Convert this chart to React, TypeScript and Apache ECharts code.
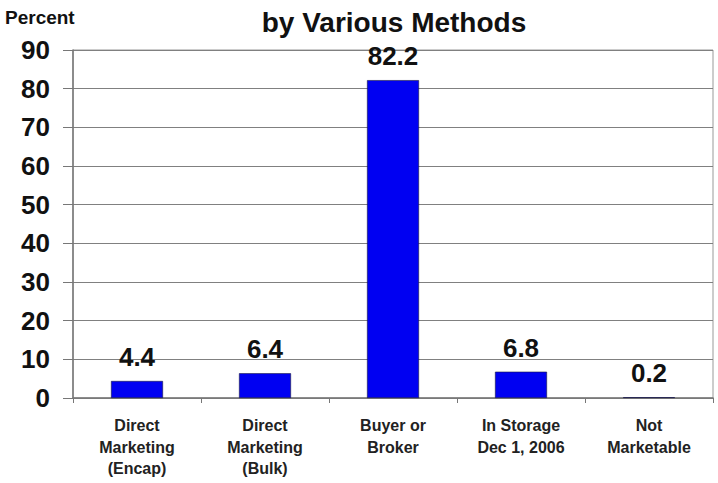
import React, { useEffect, useRef } from "react";
import * as echarts from "echarts";

const categories = [
  "Direct\nMarketing\n(Encap)",
  "Direct\nMarketing\n(Bulk)",
  "Buyer or\nBroker",
  "In Storage\nDec 1, 2006",
  "Not\nMarketable",
];
const values = [4.4, 6.4, 82.2, 6.8, 0.2];
const yTicks = { min: 0, max: 90, interval: 10 };

const FONT = "'Liberation Sans', Arial, sans-serif";

export default function App() {
  const ref = useRef<HTMLDivElement>(null);
  useEffect(() => {
    if (!ref.current) return;
    const chart = echarts.init(ref.current, undefined, { renderer: "svg" });
    chart.setOption({
      animation: false,
      backgroundColor: "#ffffff",
      title: {
        text: "by Various Methods",
        left: 389,
        textAlign: "center",
        top: 3,
        textStyle: { fontFamily: FONT, fontWeight: "bold", fontSize: 28, color: "#111" },
      },
      graphic: [
        {
          type: "text",
          left: 5,
          top: 8,
          style: { text: "Percent", font: `bold 19px ${FONT}`, fill: "#111" },
        },
      ],
      grid: {
        left: 73,
        right: 5,
        top: 50,
        bottom: 85,
        show: true,
        borderColor: "#999",
        borderWidth: 1,
      },
      xAxis: {
        type: "category",
        data: categories,
        axisLine: { lineStyle: { color: "#777", width: 1.5 } },
        axisTick: { show: true, length: 5, lineStyle: { color: "#777" } },
        axisLabel: {
          interval: 0,
          margin: 17,
          fontFamily: FONT,
          fontWeight: "bold",
          fontSize: 16,
          lineHeight: 21.5,
          color: "#222",
        },
      },
      yAxis: {
        type: "value",
        min: yTicks.min,
        max: yTicks.max,
        interval: yTicks.interval,
        axisLine: { show: true, lineStyle: { color: "#777", width: 1.5 } },
        axisTick: { show: true, length: 10, inside: false, lineStyle: { color: "#777" } },
        axisLabel: {
          margin: 23,
          fontFamily: FONT,
          fontWeight: "bold",
          fontSize: 26,
          color: "#111",
        },
        splitLine: { show: true, lineStyle: { color: "#808080", width: 1.2 } },
      },
      series: [
        {
          type: "bar",
          data: values,
          barWidth: 52,
          itemStyle: { color: "#0000f2", borderColor: "#1a1a40", borderWidth: 0.6 },
          label: {
            show: true,
            position: "top",
            distance: 11,
            formatter: (p: any) => p.value.toFixed(1),
            fontFamily: FONT,
            fontWeight: "bold",
            fontSize: 26,
            color: "#111",
          },
        },
      ],
    });
    return () => chart.dispose();
  }, []);
  return (
    <div style={{ position: "fixed", left: 0, top: 0 }}>
      <div ref={ref} style={{ width: 718, height: 483 }} />
    </div>
  );
}
